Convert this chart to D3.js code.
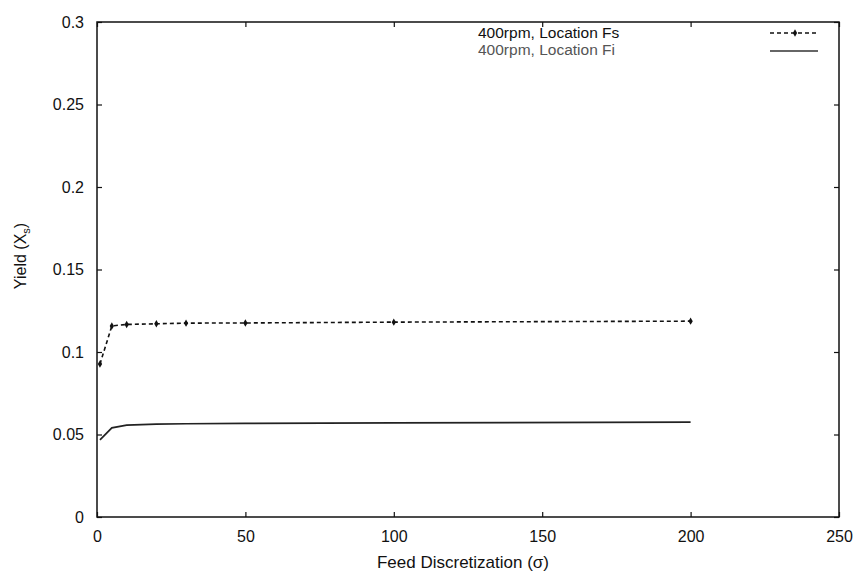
<!DOCTYPE html>
<html>
<head>
<meta charset="utf-8">
<script src="https://cdn.jsdelivr.net/npm/d3@7"></script>
<style>
  body { margin: 0; background: #fff; }
  text { font-family: "Liberation Sans", Arial, sans-serif; fill: #111; }
</style>
</head>
<body>
<svg id="chart" width="855" height="573"></svg>
<script>
// values
const sigma = [1, 5, 10, 20, 30, 50, 100, 200];
const yieldFs = [0.0927, 0.1158, 0.1167, 0.1171, 0.1175, 0.1176, 0.1181, 0.1187];
const yieldFi = [0.0467, 0.0540, 0.0557, 0.0563, 0.0565, 0.0567, 0.0570, 0.0575];
const xTicks = [0, 50, 100, 150, 200, 250];
const yTicks = [0, 0.05, 0.1, 0.15, 0.2, 0.25, 0.3];
const seriesNames = ["400rpm, Location Fs", "400rpm, Location Fi"];

const svg = d3.select("#chart");
const mLeft = 97, mRight = 839, mTop = 22, mBottom = 517;

const x = d3.scaleLinear().domain([0, 250]).range([mLeft, mRight]);
const y = d3.scaleLinear().domain([0, 0.3]).range([mBottom, mTop]);

// frame
svg.append("rect")
  .attr("x", mLeft).attr("y", mTop)
  .attr("width", mRight - mLeft).attr("height", mBottom - mTop)
  .attr("fill", "none").attr("stroke", "#111").attr("stroke-width", 1.5);

// ticks on all four sides, pointing inward (gnuplot style)
const tk = 5;
const xAx = svg.append("g").attr("transform", `translate(0,${mBottom})`)
  .call(d3.axisBottom(x).tickValues(xTicks).tickSize(-tk).tickPadding(14).tickFormat(d3.format("d")));
const xTop = svg.append("g").attr("transform", `translate(0,${mTop})`)
  .call(d3.axisTop(x).tickValues(xTicks).tickSize(-tk).tickFormat(""));
const yAx = svg.append("g").attr("transform", `translate(${mLeft},0)`)
  .call(d3.axisLeft(y).tickValues(yTicks).tickSize(-tk).tickPadding(13).tickFormat(d => d === 0 ? "0" : String(+d.toFixed(2))));
const yRight = svg.append("g").attr("transform", `translate(${mRight},0)`)
  .call(d3.axisRight(y).tickValues(yTicks).tickSize(-tk).tickFormat(""));

[xAx, xTop, yAx, yRight].forEach(g => {
  g.select(".domain").remove();
  g.selectAll("line").attr("stroke", "#111").attr("stroke-width", 1.2);
  g.selectAll("text").style("font-size", "16px").attr("fill", "#111");
});

// axis titles
svg.append("text")
  .attr("x", 463).attr("y", 568)
  .attr("text-anchor", "middle").style("font-size", "17px")
  .text("Feed Discretization (σ)");

const yt = svg.append("text")
  .attr("transform", `translate(26,256) rotate(-90)`)
  .attr("text-anchor", "middle").style("font-size", "16px");
yt.append("tspan").text("Yield (X");
yt.append("tspan").attr("dy", 4).style("font-size", "11px").text("s");
yt.append("tspan").attr("dy", -4).text(")");

const line = d3.line().x(d => x(d[0])).y(d => y(d[1]));
const fsData = sigma.map((s, i) => [s, yieldFs[i]]);
const fiData = sigma.map((s, i) => [s, yieldFi[i]]);

svg.append("path").datum(fsData).attr("d", line)
  .attr("fill", "none").attr("stroke", "#111").attr("stroke-width", 1.6)
  .attr("stroke-dasharray", "4,3");
svg.selectAll(".pt").data(fsData).enter().append("path")
  .attr("class", "pt")
  .attr("transform", d => `translate(${x(d[0])},${y(d[1])})`)
  .attr("d", d3.symbol(d3.symbolDiamond, 16))
  .attr("fill", "#111");

svg.append("path").datum(fiData).attr("d", line)
  .attr("fill", "none").attr("stroke", "#222").attr("stroke-width", 1.7);

// legend
svg.append("text").attr("x", 478).attr("y", 38)
  .style("font-size", "15.5px").text(seriesNames[0]);
svg.append("text").attr("x", 478).attr("y", 55)
  .style("font-size", "15.5px").style("fill", "#555").text(seriesNames[1]);

svg.append("line").attr("x1", 770).attr("x2", 818).attr("y1", 33).attr("y2", 33)
  .attr("stroke", "#111").attr("stroke-width", 1.4).attr("stroke-dasharray", "4,3");
svg.append("path").attr("transform", "translate(795,33)")
  .attr("d", d3.symbol(d3.symbolDiamond, 16)).attr("fill", "#111");
svg.append("line").attr("x1", 770).attr("x2", 818).attr("y1", 51).attr("y2", 51)
  .attr("stroke", "#333").attr("stroke-width", 1.4);
</script>
</body>
</html>
